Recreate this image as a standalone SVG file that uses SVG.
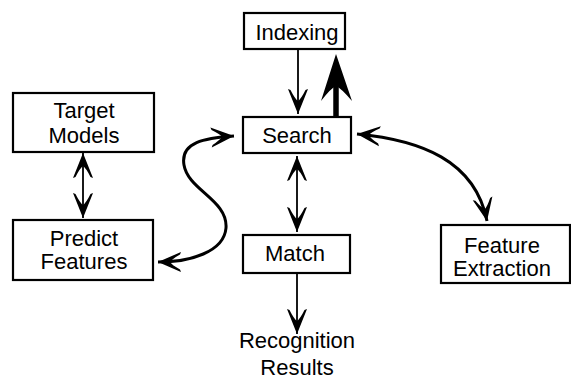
<svg xmlns="http://www.w3.org/2000/svg" width="571" height="379" viewBox="0 0 571 379">
<style>
.box{fill:#fff;stroke:#000;stroke-width:2.2}
.t{font-family:"Liberation Sans",Arial,sans-serif;font-size:22px;fill:#000;text-anchor:middle}
.ln{fill:none;stroke:#000;stroke-width:1.8}
.cv{fill:none;stroke:#000;stroke-width:3}
</style>
<defs>
<marker id="ah" markerUnits="userSpaceOnUse" viewBox="-26 -12 28 24" refX="0" refY="0" markerWidth="28" markerHeight="24" orient="auto-start-reverse">
<path d="M0,0 L-25,-10 L-24,-7.5 Q-15,-3 -13,0 Q-15,3 -24,7.5 L-25,10 Z" fill="#000"/>
</marker>
<marker id="ahc" markerUnits="userSpaceOnUse" viewBox="-26 -12 28 24" refX="0" refY="0" markerWidth="28" markerHeight="24" orient="auto-start-reverse">
<path d="M0,0 L-23,-10 L-22,-7.5 Q-14,-3 -12,0 Q-14,3 -22,7.5 L-23,10 Z" fill="#000"/>
</marker>
</defs>
<g id="connectors">
<line class="ln" x1="298" y1="49" x2="298" y2="114" marker-end="url(#ah)"/>
<line x1="336" y1="117" x2="336" y2="75" stroke="#000" stroke-width="5.5"/>
<path d="M336,54 L352,101 Q341,88 336,86 Q331,88 321,101 Z" fill="#000"/>
<line class="ln" x1="83" y1="153" x2="83" y2="218" marker-start="url(#ah)" marker-end="url(#ah)"/>
<line class="ln" x1="297" y1="156" x2="297" y2="232" marker-start="url(#ah)" marker-end="url(#ah)"/>
<line class="ln" x1="297" y1="273" x2="297" y2="334" marker-end="url(#ah)"/>
<path class="cv" d="M234,136 C205,138 180,142 184,165 C188,190 228,200 226,228 C224,252 190,262 158,262" marker-start="url(#ahc)" marker-end="url(#ahc)"/>
<path class="cv" d="M357,134 C420,140 475,160 487,221" marker-start="url(#ahc)" marker-end="url(#ahc)"/>
</g>
<g id="indexing">
<rect class="box" x="244" y="13" width="101" height="36"/>
<text class="t" x="297" y="40">Indexing</text>
</g>
<g id="search">
<rect class="box" x="243" y="117" width="108" height="36"/>
<text class="t" x="297" y="143">Search</text>
</g>
<g id="target-models">
<rect class="box" x="13" y="93" width="141" height="59"/>
<text class="t" x="84" y="118">Target</text>
<text class="t" x="84" y="143">Models</text>
</g>
<g id="predict-features">
<rect class="box" x="13" y="220" width="140" height="60"/>
<text class="t" x="84" y="246">Predict</text>
<text class="t" x="84" y="269">Features</text>
</g>
<g id="match">
<rect class="box" x="243" y="235" width="107" height="38"/>
<text class="t" x="295" y="261">Match</text>
</g>
<g id="feature-extraction">
<rect class="box" x="441" y="225" width="129" height="58"/>
<text class="t" x="502" y="253">Feature</text>
<text class="t" x="502" y="276">Extraction</text>
</g>
<g id="recognition-results">
<text class="t" x="297" y="348">Recognition</text>
<text class="t" x="297" y="375">Results</text>
</g>
</svg>
